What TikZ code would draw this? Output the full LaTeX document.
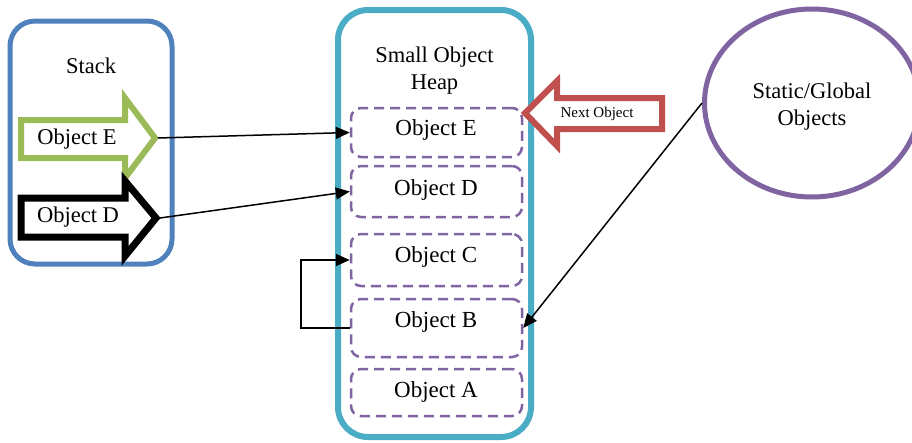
\documentclass[tikz,border=0pt]{standalone}
\usepackage{fontspec}
\setmainfont{Liberation Serif}
\usetikzlibrary{arrows.meta,shapes.geometric}
\definecolor{stackblue}{HTML}{4F81BD}
\definecolor{heapcyan}{HTML}{4BACC6}
\definecolor{objpurple}{HTML}{8064A2}
\definecolor{greenarr}{HTML}{9BBB59}
\definecolor{redarr}{HTML}{C0504D}
\begin{document}
\begin{tikzpicture}[x=1pt,y=-1pt,
  txt/.style={font=\fontsize{22.5}{27}\selectfont, inner sep=0pt},
  objtxt/.style={font=\fontsize{23}{27}\selectfont, inner sep=0pt, anchor=base},
  objbox/.style={draw=objpurple, line width=2.5pt, dash pattern=on 10pt off 6pt,
    rounded corners=10pt, minimum width=171pt, inner sep=0pt},
  blockarrow/.style={line width=6pt, miter limit=10, line join=miter, fill=white},
  conn/.style={draw=black, line width=1.5pt, -{Triangle[length=14pt,width=12pt]}}]
\fill[white] (0,0) rectangle (912,442);
\useasboundingbox (0,0) rectangle (912,442);

% Stack container
\node[draw=stackblue, line width=5pt, rounded corners=25pt, minimum width=162pt,
      minimum height=243pt, inner sep=0pt] (stack) at (91,142.5) {};
\node[txt, anchor=base] (stacklbl) at (91,73) {Stack};

% block arrows inside the stack
\draw[blockarrow, draw=greenarr] (21,120) -- (125,120) -- (125,98) -- (155,138)
   -- (125,178) -- (125,158) -- (21,158) -- cycle;
\coordinate (gtip) at (158,138);
\node[txt, anchor=base] (stackE) at (77,144) {Object E};

\draw[blockarrow, draw=black, line width=7pt] (21,198) -- (125,198) -- (125,181) -- (156,218)
   -- (125,256) -- (125,237) -- (21,237) -- cycle;
\coordinate (btip) at (160,218);
\node[txt, anchor=base] (stackD) at (78,222) {Object D};

% Heap container
\node[draw=heapcyan, line width=6pt, rounded corners=30pt, minimum width=193pt,
      minimum height=427pt, inner sep=0pt] (heap) at (434.5,223.5) {};
\node[txt, align=center, anchor=center] (heaplbl) at (434.5,71) {Small Object\\Heap};

\node[objbox, minimum height=49pt] (hE) at (436.5,132.5) {};
\node[objbox, minimum height=51pt] (hD) at (436.5,191.5) {};
\node[objbox, minimum height=52pt] (hC) at (436.5,260) {};
\node[objbox, minimum height=58pt] (hB) at (436.5,328) {};
\node[objbox, minimum height=47pt] (hA) at (436.5,392.5) {};
\node[objtxt] (tE) at (436,135) {Object E};
\node[objtxt] (tD) at (436,195) {Object D};
\node[objtxt] (tC) at (436,262) {Object C};
\node[objtxt] (tB) at (436,327) {Object B};
\node[objtxt] (tA) at (436,397) {Object A};

% Next Object arrow
\draw[blockarrow, draw=redarr] (662,98) -- (557,98) -- (557,81) -- (525,113)
   -- (557,146) -- (557,129) -- (662,129) -- cycle;
\node[font=\fontsize{15}{18}\selectfont, inner sep=0pt, anchor=base] (nextlbl) at (597,117) {Next Object};

% Static / Global objects
\node[ellipse, draw=objpurple, line width=5pt, minimum width=215pt,
      minimum height=188pt, inner sep=0pt] (static) at (812,103) {};
\node[txt, align=center, anchor=center] (staticlbl) at (812,107) {Static/Global\\Objects};

% connectors
\draw[conn] (gtip) -- (hE.west);
\draw[conn] (btip) -- (hD.west);
\draw[conn] (hB.west) -- ++(-49,0) |- (hC.west);
\draw[conn] (static.west) -- (hB.east);
\end{tikzpicture}
\end{document}
